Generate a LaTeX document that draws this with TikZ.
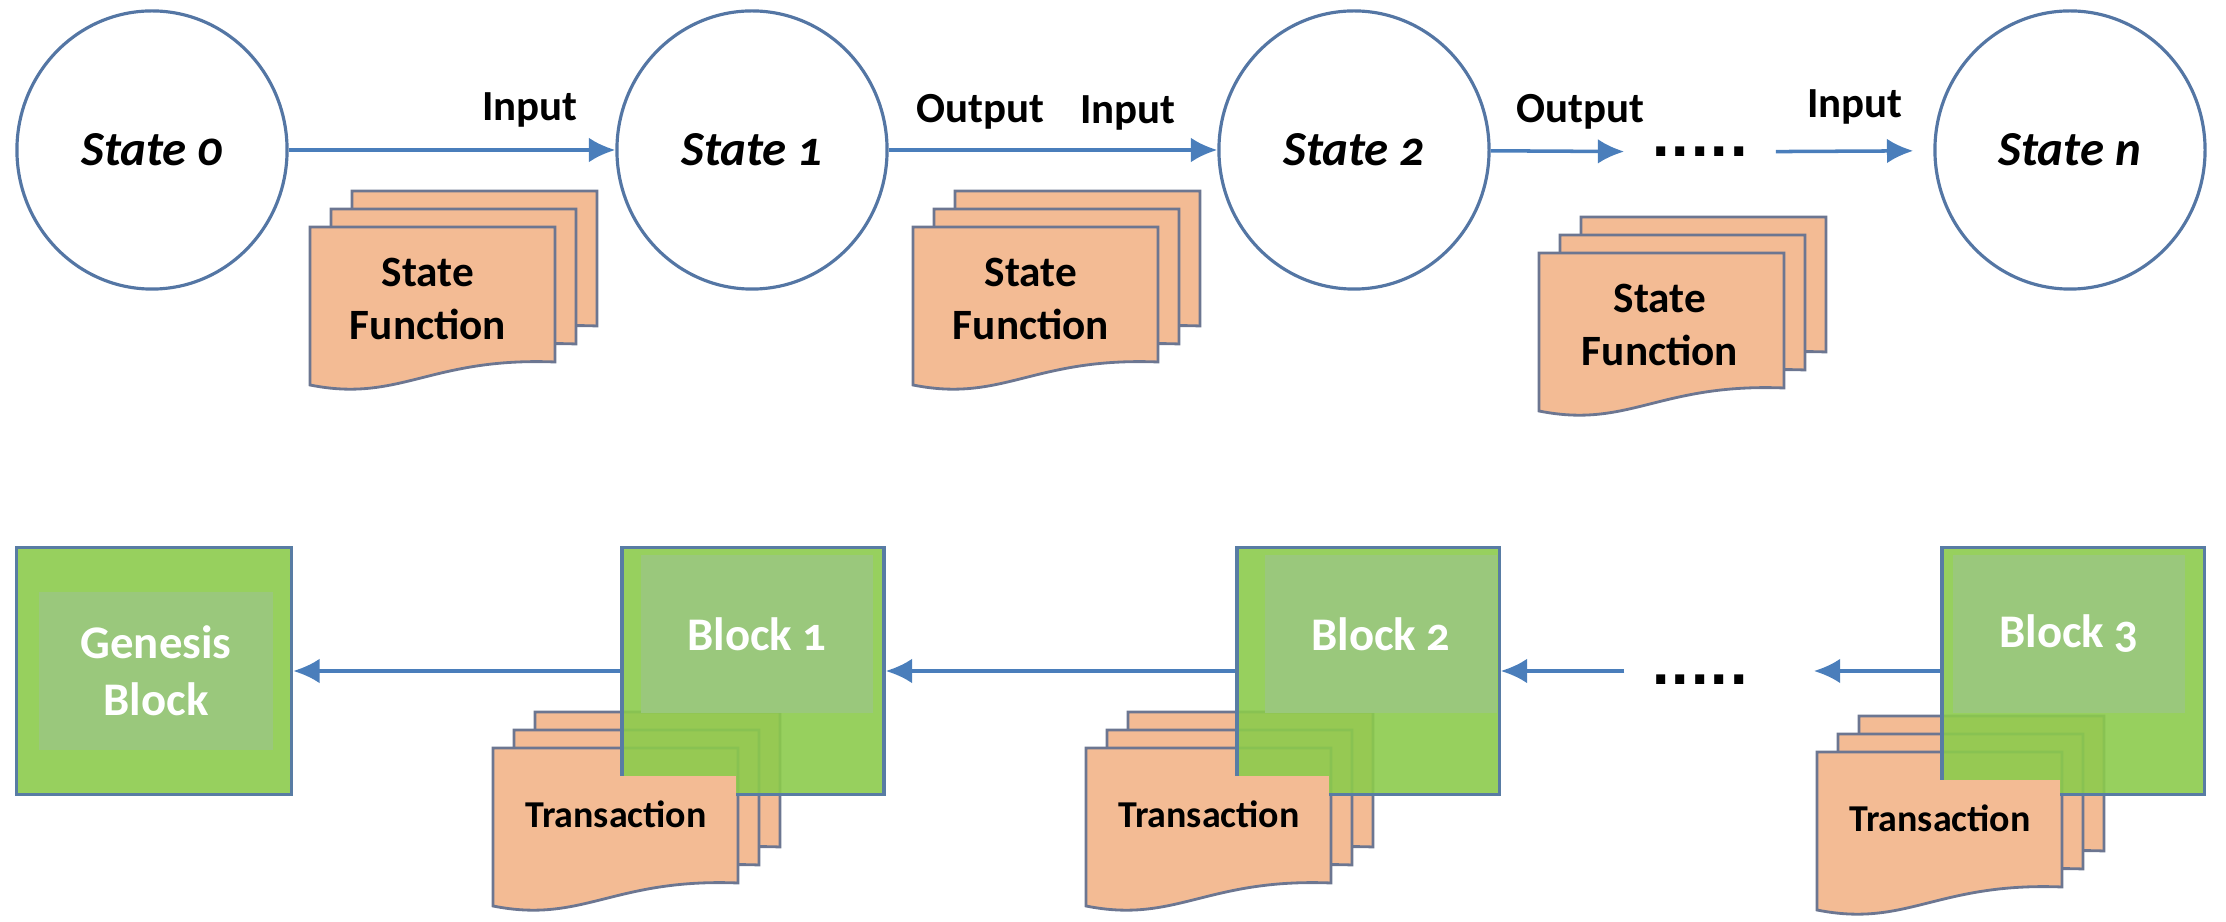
\documentclass[tikz,border=0pt]{standalone}
\usepackage{fontspec}
\setmainfont{Carlito}[Numbers=OldStyle]
\newfontfamily\squaredots{DejaVu Sans}
\usepackage{tikz}
\usetikzlibrary{arrows.meta}
\usetikzlibrary{shapes.geometric}

\definecolor{rimblue}{RGB}{84,118,164}
\definecolor{arrowblue}{RGB}{74,126,187}
\definecolor{docfill}{RGB}{243,187,148}
\definecolor{docline}{RGB}{108,118,145}
\definecolor{blockgreen}{RGB}{140,203,76}
\definecolor{blocklight}{RGB}{154,200,124}
\definecolor{blockline}{RGB}{88,124,164}

\tikzset{>={Latex[length=7.5pt,width=7pt]}}
\tikzstyle{statenode} = [ellipse, draw=rimblue, line width=0.9pt, fill=white, minimum width=2.7cm, minimum height=2.78cm, font=\fontsize{13.9pt}{16pt}\selectfont\bfseries\itshape]
\tikzstyle{flow} = [->, draw=arrowblue, line width=1pt]
\tikzstyle{lbl} = [inner sep=0pt, font=\fontsize{12.2pt}{14pt}\selectfont\bfseries]
\tikzstyle{dots} = [inner sep=0pt, minimum width=1.5cm, font=\fontsize{14.5pt}{16pt}\selectfont\squaredots\bfseries]
\tikzstyle{docpage} = [draw=docline, line width=0.8pt, fill=docfill]
\tikzstyle{doctext} = [align=center, inner sep=0pt, font=\fontsize{12.3pt}{14.8pt}\selectfont\bfseries]
\tikzstyle{blockbox} = [rectangle, draw=blockline, line width=0.9pt, fill=blockgreen, fill opacity=0.9, minimum width=2.62cm, minimum height=2.47cm]
\tikzstyle{blockcore} = [rectangle, fill=blocklight, text=white, align=center, minimum width=2.32cm, minimum height=1.58cm, font=\fontsize{13.3pt}{16.2pt}\selectfont\bfseries]
\tikzstyle{txbox} = [rectangle, fill=docfill, minimum width=2.4cm, minimum height=0.76cm, font=\fontsize{10.8pt}{12pt}\selectfont\bfseries]

% three stacked pages, front page top-left at (#1,#2)
\newcommand{\pagestack}[2]{%
  \foreach \k in {2,1,0} {
    \begin{scope}[shift={(#1+21*\k,#2-18*\k)}]
      \draw[docpage] (0,0) -- (245,0) -- (245,135)
        .. controls (120,130) and (90,176) .. (0,158) -- cycle;
    \end{scope}
  }
}

\begin{document}
\begin{tikzpicture}[x=0.01cm, y=-0.01cm]
\useasboundingbox (0,0) rectangle (2226,922);

% state chain
\node[statenode] (s0) at (152,150) {State 0};
\node[statenode] (s1) at (752,150) {State 1};
\node[statenode] (s2) at (1354,150) {State 2};
\node[statenode] (sn) at (2070,150) {State n};
\node[dots] (dtop) at (1700,152) {.....};

\draw[flow] (s0) -- (s1);
\draw[flow] (s1) -- (s2);
\draw[flow] (s2) -- (dtop);
\draw[flow, shorten >=0.2cm] (dtop) -- (sn);

\node[lbl] (in1) at (530,110) {Input};
\node[lbl] (out1) at (980,112) {Output};
\node[lbl] (in2) at (1128,113) {Input};
\node[lbl] (out2) at (1580,112) {Output};
\node[lbl] (in3) at (1855,107) {Input};

\pagestack{310}{227}
\node[doctext] (sf1) at (428,299) {State\\Function};
\pagestack{913}{227}
\node[doctext] (sf2) at (1031,299) {State\\Function};
\pagestack{1539}{253}
\node[doctext] (sf3) at (1660,325) {State\\Function};

% block chain
\pagestack{493}{748}
\pagestack{1086}{748}
\pagestack{1817}{752}

\node[blockbox, minimum width=2.75cm] (gen) at (154,671) {};
\node[blockcore, minimum width=2.33cm] (genlab) at (156,671) {Genesis\\Block};
\node[blockbox] (b1) at (753,671) {};
\node[blockcore] (b1lab) at (757,634) {Block 1};
\node[blockbox] (b2) at (1368,671) {};
\node[blockcore] (b2lab) at (1381,634) {Block 2};
\node[blockbox] (b3) at (2073,671) {};
\node[blockcore] (b3lab) at (2069,634) {Block 3};

\node[txbox] (tx1) at (616,814) {Transaction};
\node[txbox] (tx2) at (1209,814) {Transaction};
\node[txbox] (tx3) at (1940,818) {Transaction};

\node[dots] (dbot) at (1700,680) {.....};

\draw[flow] (b1) -- (gen);
\draw[flow] (b2) -- (b1);
\draw[flow] (dbot.west |- b2) -- (b2);
\draw[flow, shorten >=0.38cm] (b3) -- (dbot.east |- b3);
\end{tikzpicture}
\end{document}
